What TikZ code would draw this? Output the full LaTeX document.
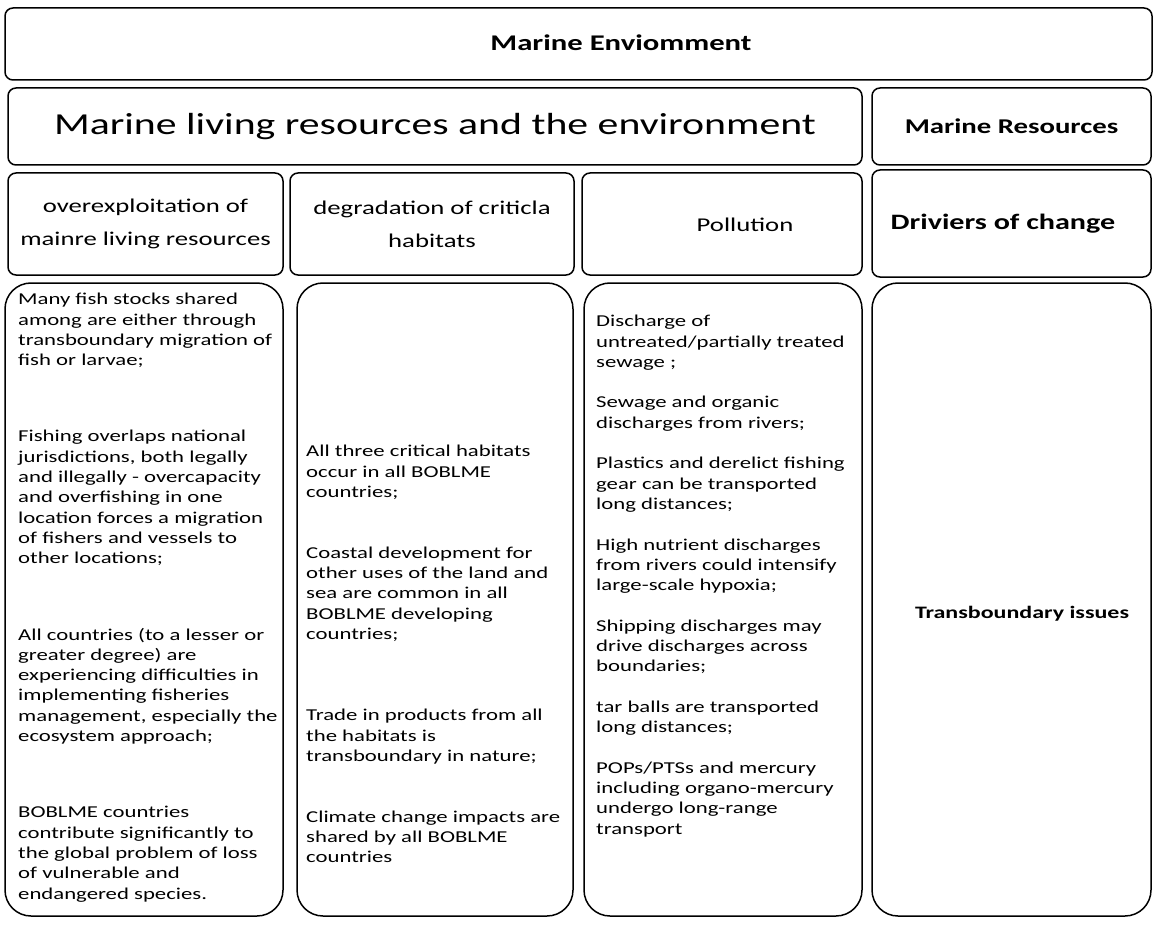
\documentclass[tikz,border=0pt]{standalone}
\usepackage{fontspec}
\setmainfont{Carlito}[FakeStretch=1.37]

\begin{document}
\begin{tikzpicture}[x=1pt, y=-1pt,
  headbox/.style={draw=black, line width=1.5pt, rounded corners=8pt, inner sep=0pt, align=center},
  colbox/.style={draw=black, line width=1.5pt, rounded corners=26pt, inner sep=0pt},
  bodytext/.style={anchor=north west, inner sep=0pt, align=left, font=\fontsize{16.6}{20.3}\selectfont},
  subhead/.style={font=\fontsize{19.5}{33}\selectfont}]
  \useasboundingbox (0,0) rectangle (1153,925);

  % Boxes
  \node[headbox, minimum width=1147pt, minimum height=72pt] (env) at (578.5,44) {};
  \node[headbox, minimum width=854pt, minimum height=77pt, font=\fontsize{30.5}{36}\selectfont] (living) at (435,126.5) {Marine living resources and the environment};
  \node[headbox, minimum width=279pt, minimum height=77pt, font=\bfseries\fontsize{21}{25}\selectfont] (resources) at (1011.5,126.5) {Marine Resources};
  \node[headbox, subhead, minimum width=275pt, minimum height=102pt] (overex) at (145.5,224) {overexploitation of\\mainre living resources};
  \node[headbox, subhead, minimum width=284pt, minimum height=102pt] (degrad) at (432,224) {degradation of criticla\\habitats};
  \node[headbox, minimum width=280pt, minimum height=102pt] (pollution) at (722,224) {};
  \node[headbox, minimum width=279pt, minimum height=107pt] (drivers) at (1011.5,223.5) {};
  \node[colbox, minimum width=278pt, minimum height=633pt] (colA) at (144,599.5) {};
  \node[colbox, minimum width=276pt, minimum height=633pt] (colB) at (435,599.5) {};
  \node[colbox, minimum width=278pt, minimum height=633pt] (colC) at (723,599.5) {};
  \node[colbox, minimum width=279pt, minimum height=633pt] (transb) at (1011.5,599.5) {};

  % Texts
  \node[inner sep=0pt, font=\bfseries\fontsize{22.4}{27}\selectfont] (envtitle) at (621,43) {Marine Enviomment};
  \node[inner sep=0pt, subhead] (pollutiontitle) at (745,225) {Pollution};
  \node[inner sep=0pt, font=\bfseries\fontsize{22}{26}\selectfont] (driverstitle) at (1003,224) {Driviers of change};
  \node[inner sep=0pt, font=\bfseries\fontsize{17.5}{21}\selectfont] (transbtitle) at (1022,614) {Transboundary issues};
  \node[bodytext] (textA) at (18,293) {Many fish stocks shared\\among are either through\\transboundary migration of\\fish or larvae;\\[56pt]
    Fishing overlaps national\\jurisdictions, both legally\\and illegally - overcapacity\\and overfishing in one\\location forces a migration\\of fishers and vessels to\\other locations;\\[56pt]
    All countries (to a lesser or\\greater degree) are\\experiencing difficulties in\\implementing fisheries\\management, especially the\\ecosystem approach;\\[56pt]
    BOBLME countries\\contribute significantly to\\the global problem of loss\\of vulnerable and\\endangered species.};
  \node[bodytext] (textB) at (306,445) {All three critical habitats\\occur in all BOBLME\\countries;\\[40.6pt]
    Coastal development for\\other uses of the land and\\sea are common in all\\BOBLME developing\\countries;\\[61pt]
    Trade in products from all\\the habitats is\\transboundary in nature;\\[40.6pt]
    Climate change impacts are\\shared by all BOBLME\\countries};
  \node[bodytext] (textC) at (596,315) {Discharge of\\untreated/partially treated\\sewage ;\\[20.3pt]
    Sewage and organic\\discharges from rivers;\\[20.3pt]
    Plastics and derelict fishing\\gear can be transported\\long distances;\\[20.3pt]
    High nutrient discharges\\from rivers could intensify\\large-scale hypoxia;\\[20.3pt]
    Shipping discharges may\\drive discharges across\\boundaries;\\[20.3pt]
    tar balls are transported\\long distances;\\[20.3pt]
    POPs/PTSs and mercury\\including organo-mercury\\undergo long-range\\transport};
\end{tikzpicture}
\end{document}
